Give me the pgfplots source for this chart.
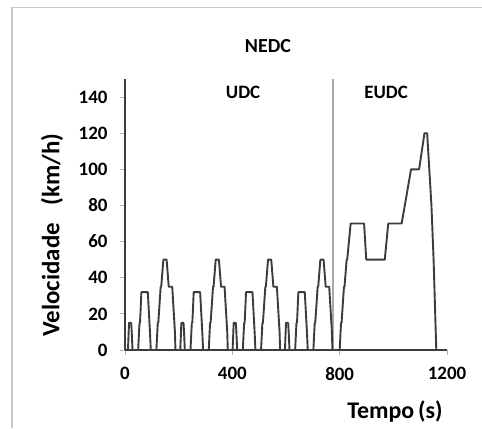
\documentclass[border=0pt]{standalone}
\usepackage{fontspec}
\setmainfont{Carlito}
\usepackage{pgfplots}
\pgfplotsset{compat=1.18}
\definecolor{linec}{HTML}{3C3C3C}
\definecolor{framec}{HTML}{C8C8C8}
\definecolor{divc}{HTML}{A8A8A8}
\definecolor{tickc}{HTML}{B0B0B0}
\begin{document}
\begin{tikzpicture}[x=1bp,y=1bp]
\useasboundingbox (0,0) rectangle (482,428);
\draw[framec, line width=1.5bp] (12,0) -- (12,420.7) -- (482,420.7);
\begin{axis}[
  at={(125bp,78bp)}, anchor=south west,
  width=322bp, height=271bp, scale only axis,
  xmin=0, xmax=1200, ymin=0, ymax=150,
  axis lines=left,
  axis line style={-, linec, line width=1.2bp},
  xtick={0,400,800,1200},
  ytick={0,20,40,60,80,100,120,140},
  tick align=outside,
  major tick length=5bp,
  tick style={tickc, line width=0.8bp},
  /pgf/number format/assume math mode=true,
  /pgf/number format/1000 sep={},
  every tick label/.append style={font=\fontsize{19}{19}\selectfont\bfseries, text=black},
  xticklabel style={yshift=-9bp},
  yticklabel style={xshift=-9bp},
  xlabel={Tempo\,(s)},
  xlabel style={font=\fontsize{24}{24}\selectfont\bfseries, at={(rel axis cs:0.8385,-0.228)}, anchor=center},
  ylabel={Velocidade\hspace{0.7em}(km/h)},
  ylabel style={font=\fontsize{25}{25}\selectfont\bfseries, at={(rel axis cs:-0.2267,0.424)}, anchor=center, rotate=0},
  title={NEDC},
  title style={font=\fontsize{20}{20}\selectfont\bfseries, at={(rel axis cs:0.444,1.10)}, anchor=center},
  clip=false,
]
\addplot[divc, line width=1.2bp] coordinates {(775,0) (775,150)};
\addplot[linec, line width=1.9bp, line join=round] coordinates {
(0,0)(11,0)(15,15)(23,15)(25,10)(28,0)(49,0)(54,15)(56,15)(61,32)(85,32)(93,10)(96,0)(117,0)(122,15)(124,15)(133,35)(135,35)(143,50)(155,50)(163,35)(176,35)(186,10)(188,0)(195,0)
(206,0)(210,15)(218,15)(220,10)(223,0)(244,0)(249,15)(251,15)(256,32)(280,32)(288,10)(291,0)(312,0)(317,15)(319,15)(328,35)(330,35)(338,50)(350,50)(358,35)(371,35)(381,10)(383,0)(390,0)
(401,0)(405,15)(413,15)(415,10)(418,0)(439,0)(444,15)(446,15)(451,32)(475,32)(483,10)(486,0)(507,0)(512,15)(514,15)(523,35)(525,35)(533,50)(545,50)(553,35)(566,35)(576,10)(578,0)(585,0)
(596,0)(600,15)(608,15)(610,10)(613,0)(634,0)(639,15)(641,15)(646,32)(670,32)(678,10)(681,0)(702,0)(707,15)(709,15)(718,35)(720,35)(728,50)(740,50)(748,35)(761,35)(771,10)(773,0)(780,0)
(800,0)(805,15)(807,15)(816,35)(818,35)(826,50)(828,50)(841,70)(891,70)(899,50)(968,50)(981,70)(1031,70)(1066,100)(1096,100)(1116,120)(1126,120)(1142,80)(1150,50)(1160,0)(1180,0)
};
\node[font=\fontsize{19}{19}\selectfont\bfseries] at (axis cs:440,142.8) {UDC};
\node[font=\fontsize{19}{19}\selectfont\bfseries] at (axis cs:973,142.8) {EUDC};
\end{axis}
\end{tikzpicture}
\end{document}
